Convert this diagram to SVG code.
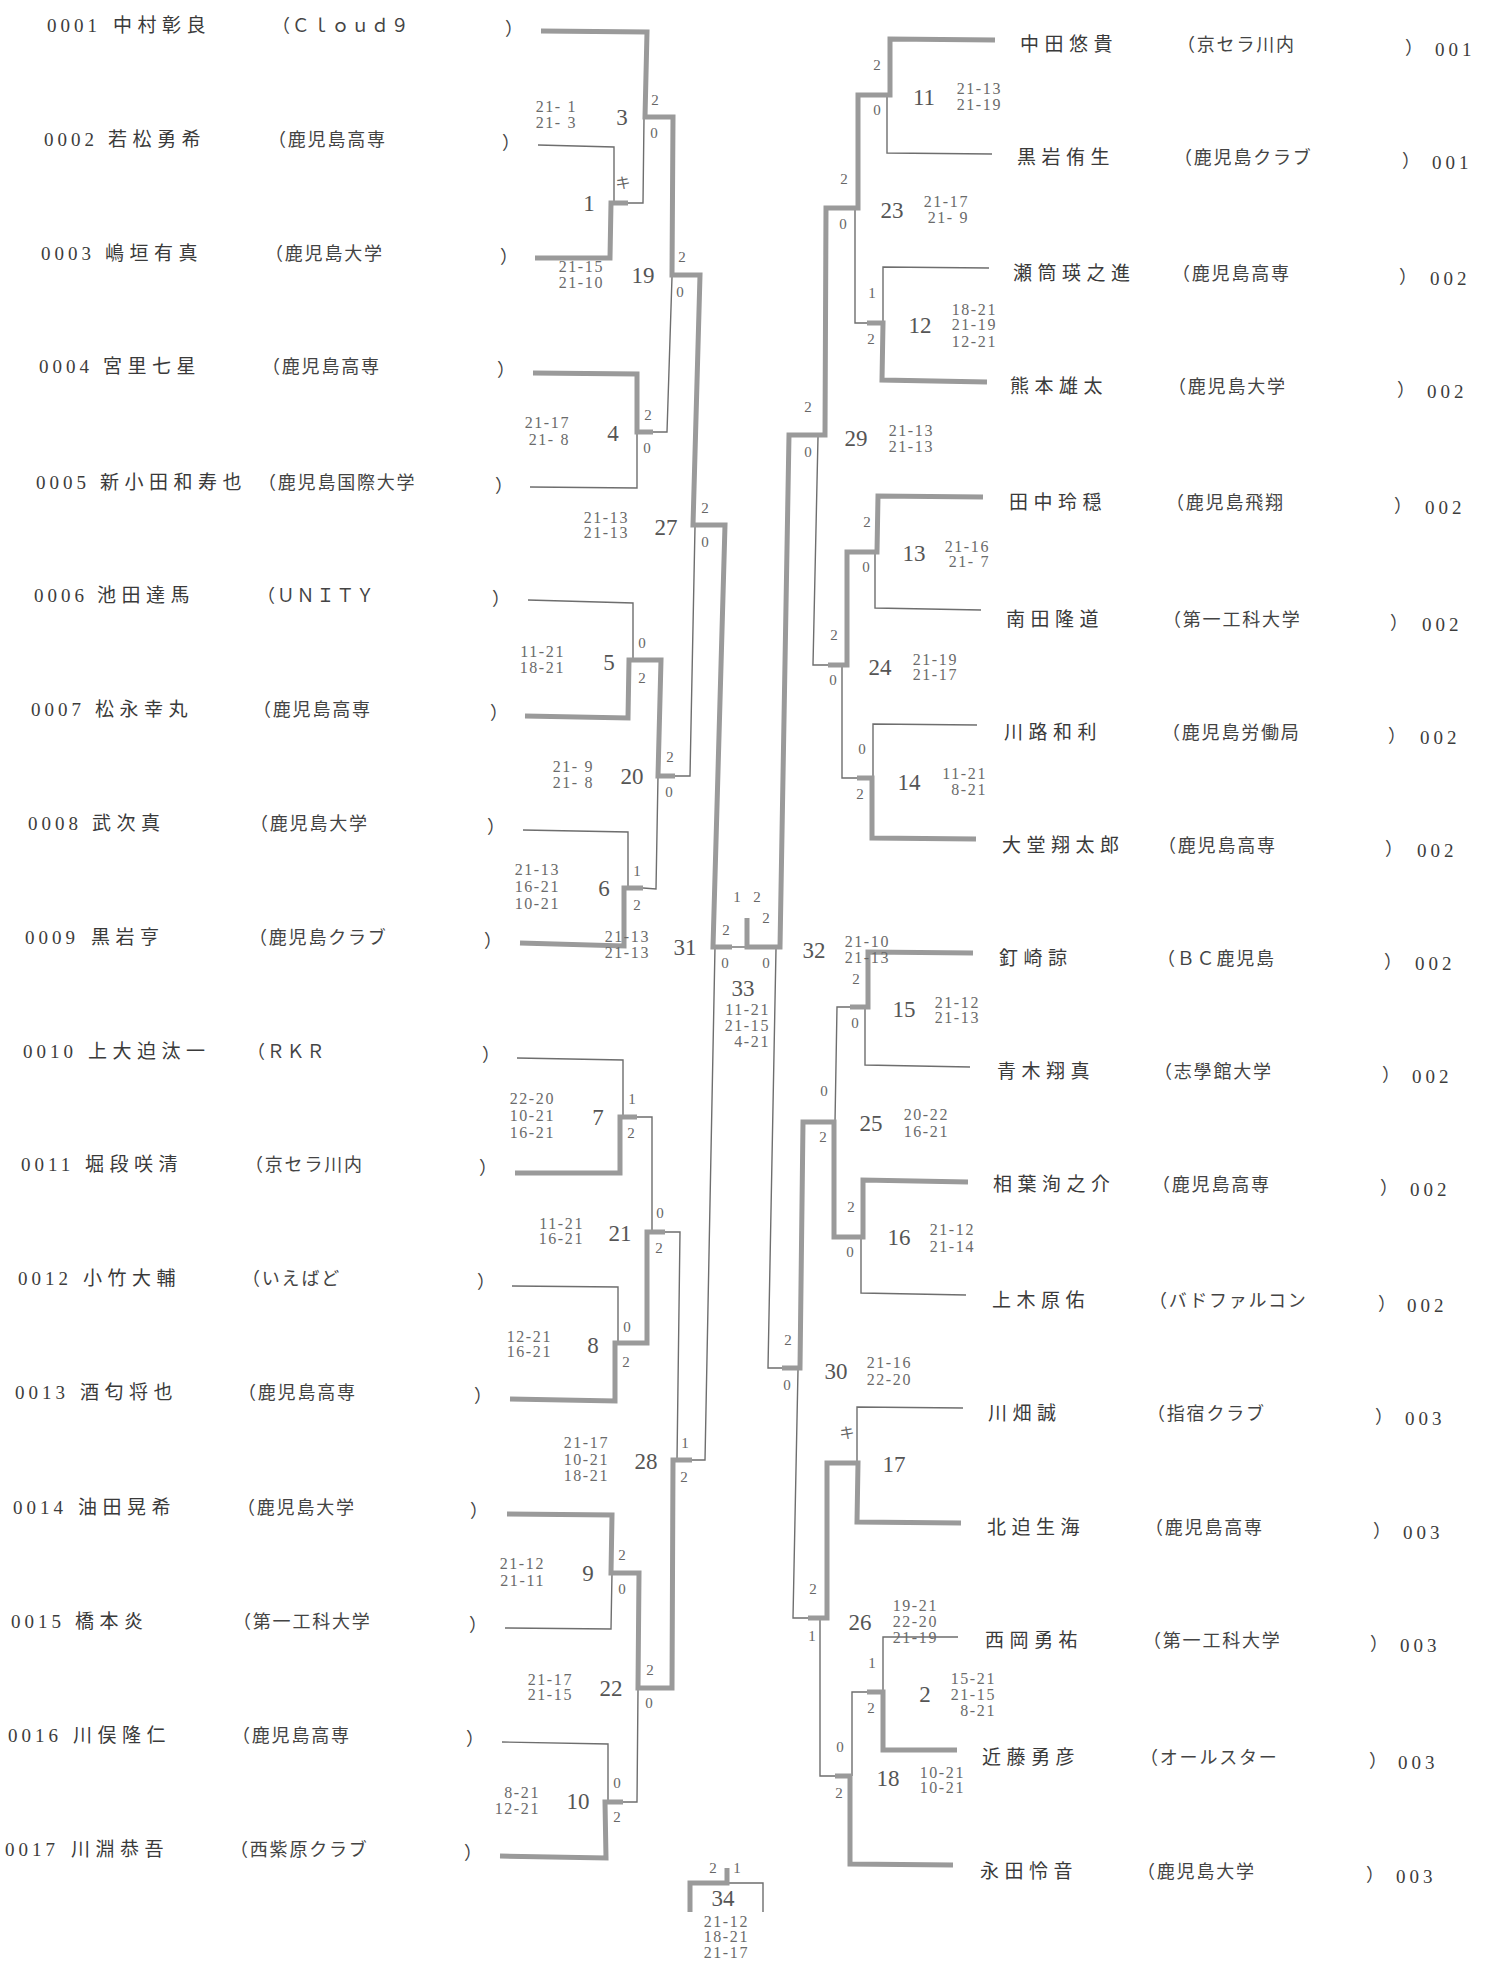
<svg xmlns="http://www.w3.org/2000/svg" width="1496" height="1962" viewBox="0 0 1496 1962">
<style>
.tk{fill:none;stroke:#9a9a9a;stroke-width:5;stroke-linejoin:miter;stroke-linecap:butt}
.tn{fill:none;stroke:#6e6e6e;stroke-width:1.4}
.num{font-family:"Liberation Serif","Noto Sans CJK JP",serif;font-size:19px;letter-spacing:4px;fill:#3c3c3c}
.nm{font-family:"Liberation Serif","Noto Sans CJK JP",serif;font-size:19px;letter-spacing:5.5px;fill:#3a3a3a}
.af{font-family:"Liberation Serif","Noto Sans CJK JP",serif;font-size:18px;letter-spacing:1.8px;fill:#444}
.wc{font-family:"Liberation Serif","Noto Sans CJK JP",serif;font-size:15px;fill:#666;text-anchor:middle}
.mn{font-family:"Liberation Serif",serif;font-size:23px;fill:#555;text-anchor:middle}
.sc{font-family:"Liberation Serif",serif;font-size:16px;letter-spacing:1.6px;fill:#6a6a6a;text-anchor:end}
</style>
<rect width="1496" height="1962" fill="#ffffff"/>
<g id="connectors">
<polyline class="tn" points="538,145 614,147 614,203"/>
<polyline class="tn" points="628,203 643,203 644,118"/>
<polyline class="tn" points="653,432 667,432 672,277"/>
<polyline class="tn" points="530,487 637,488 637,432"/>
<polyline class="tn" points="675,776 690,776 695,527"/>
<polyline class="tn" points="528,600 633,603 633,660"/>
<polyline class="tn" points="523,830 628,832 628,888"/>
<polyline class="tn" points="643,888 656,889 658,776"/>
<polyline class="tn" points="732,947 745,947"/>
<polyline class="tn" points="692,1460 705,1460 715,947"/>
<polyline class="tn" points="517,1058 623,1060 623,1117"/>
<polyline class="tn" points="637,1117 652,1117 652,1232"/>
<polyline class="tn" points="512,1286 618,1287 618,1343"/>
<polyline class="tn" points="665,1232 680,1232 677,1460"/>
<polyline class="tn" points="505,1628 611,1629 612,1573"/>
<polyline class="tn" points="502,1742 608,1744 608,1802"/>
<polyline class="tn" points="623,1802 637,1802 638,1690"/>
<polyline class="tn" points="727,1883 763,1883 763,1912"/>
<polyline class="tn" points="992,154 887,153 887,95"/>
<polyline class="tn" points="989,268 883,267 883,323"/>
<polyline class="tn" points="867,323 855,323 855,210"/>
<polyline class="tn" points="818,437 813,665 828,665"/>
<polyline class="tn" points="981,610 875,608 875,552"/>
<polyline class="tn" points="977,725 873,724 873,778"/>
<polyline class="tn" points="857,778 842,778 842,665"/>
<polyline class="tn" points="776,949 768,1368 782,1368"/>
<polyline class="tn" points="850,1007 837,1007 835,1122"/>
<polyline class="tn" points="970,1067 865,1065 865,1007"/>
<polyline class="tn" points="966,1295 861,1293 861,1237"/>
<polyline class="tn" points="798,1370 793,1618 808,1618"/>
<polyline class="tn" points="963,1408 857,1407 857,1463"/>
<polyline class="tn" points="958,1637 883,1637 883,1692"/>
<polyline class="tn" points="867,1692 852,1692 852,1776"/>
<polyline class="tn" points="835,1776 820,1776 820,1618"/>
<polyline class="tk" points="541,31 647,32 645,117 673,117 672,275 700,275 693,525 725,525 713,947 732,947"/>
<polyline class="tk" points="535,258 610,258 611,203 628,203"/>
<polyline class="tk" points="533,373 637,374 637,432 653,432"/>
<polyline class="tk" points="525,716 628,718 629,660 661,660 658,776 675,776"/>
<polyline class="tk" points="520,943 624,946 624,888 643,888"/>
<polyline class="tk" points="515,1173 620,1173 620,1117 637,1117"/>
<polyline class="tk" points="510,1399 615,1401 615,1343 647,1343 647,1232 665,1232"/>
<polyline class="tk" points="507,1514 612,1515 611,1573 639,1573 638,1688 672,1688 673,1460 692,1460"/>
<polyline class="tk" points="500,1856 606,1858 605,1802 623,1802"/>
<polyline class="tk" points="727,1868 727,1883 690,1883 690,1912"/>
<polyline class="tk" points="995,40 890,39 890,95 858,95 858,208 826,208 825,435 789,435 780,947 747,947 747,918"/>
<polyline class="tk" points="987,382 882,380 883,323 867,323"/>
<polyline class="tk" points="983,497 878,496 877,552 847,552 847,665 828,665"/>
<polyline class="tk" points="976,839 872,838 872,778 857,778"/>
<polyline class="tk" points="973,953 868,952 868,1007 850,1007"/>
<polyline class="tk" points="968,1182 863,1180 863,1237 834,1237 834,1122 803,1122 800,1368 782,1368"/>
<polyline class="tk" points="961,1523 857,1522 858,1463 827,1463 827,1618 808,1618"/>
<polyline class="tk" points="957,1750 883,1750 883,1692 867,1692"/>
<polyline class="tk" points="953,1865 850,1864 850,1776 835,1776"/>
</g>
<g id="p0001"><text class="num" x="47" y="32">0001</text><text class="nm" x="113" y="32">中村彰良</text><text class="af" x="272" y="32">（Ｃｌｏｕｄ９</text><text class="af" x="505" y="35">）</text></g>
<g id="p0002"><text class="num" x="44" y="146">0002</text><text class="nm" x="108" y="146">若松勇希</text><text class="af" x="268" y="146">（鹿児島高専</text><text class="af" x="502" y="149">）</text></g>
<g id="p0003"><text class="num" x="41" y="260">0003</text><text class="nm" x="105" y="260">嶋垣有真</text><text class="af" x="265" y="260">（鹿児島大学</text><text class="af" x="500" y="263">）</text></g>
<g id="p0004"><text class="num" x="39" y="373">0004</text><text class="nm" x="103" y="373">宮里七星</text><text class="af" x="262" y="373">（鹿児島高専</text><text class="af" x="497" y="376">）</text></g>
<g id="p0005"><text class="num" x="36" y="489">0005</text><text class="nm" x="100" y="489">新小田和寿也</text><text class="af" x="258" y="489">（鹿児島国際大学</text><text class="af" x="495" y="492">）</text></g>
<g id="p0006"><text class="num" x="34" y="602">0006</text><text class="nm" x="97" y="602">池田達馬</text><text class="af" x="257" y="602">（ＵＮＩＴＹ</text><text class="af" x="492" y="605">）</text></g>
<g id="p0007"><text class="num" x="31" y="716">0007</text><text class="nm" x="95" y="716">松永幸丸</text><text class="af" x="253" y="716">（鹿児島高専</text><text class="af" x="490" y="719">）</text></g>
<g id="p0008"><text class="num" x="28" y="830">0008</text><text class="nm" x="92" y="830">武次真</text><text class="af" x="250" y="830">（鹿児島大学</text><text class="af" x="487" y="833">）</text></g>
<g id="p0009"><text class="num" x="25" y="944">0009</text><text class="nm" x="91" y="944">黒岩亨</text><text class="af" x="249" y="944">（鹿児島クラブ</text><text class="af" x="484" y="947">）</text></g>
<g id="p0010"><text class="num" x="23" y="1058">0010</text><text class="nm" x="88" y="1058">上大迫汰一</text><text class="af" x="247" y="1058">（ＲＫＲ</text><text class="af" x="482" y="1061">）</text></g>
<g id="p0011"><text class="num" x="21" y="1171">0011</text><text class="nm" x="85" y="1171">堀段咲清</text><text class="af" x="245" y="1171">（京セラ川内</text><text class="af" x="479" y="1174">）</text></g>
<g id="p0012"><text class="num" x="18" y="1285">0012</text><text class="nm" x="83" y="1285">小竹大輔</text><text class="af" x="242" y="1285">（いえばど</text><text class="af" x="477" y="1288">）</text></g>
<g id="p0013"><text class="num" x="15" y="1399">0013</text><text class="nm" x="80" y="1399">酒匂将也</text><text class="af" x="238" y="1399">（鹿児島高専</text><text class="af" x="474" y="1402">）</text></g>
<g id="p0014"><text class="num" x="13" y="1514">0014</text><text class="nm" x="78" y="1514">油田晃希</text><text class="af" x="237" y="1514">（鹿児島大学</text><text class="af" x="470" y="1517">）</text></g>
<g id="p0015"><text class="num" x="11" y="1628">0015</text><text class="nm" x="75" y="1628">橋本炎</text><text class="af" x="233" y="1628">（第一工科大学</text><text class="af" x="469" y="1631">）</text></g>
<g id="p0016"><text class="num" x="8" y="1742">0016</text><text class="nm" x="73" y="1742">川俣隆仁</text><text class="af" x="232" y="1742">（鹿児島高専</text><text class="af" x="466" y="1745">）</text></g>
<g id="p0017"><text class="num" x="5" y="1856">0017</text><text class="nm" x="71" y="1856">川淵恭吾</text><text class="af" x="230" y="1856">（西紫原クラブ</text><text class="af" x="464" y="1859">）</text></g>
<g id="r01"><text class="nm" x="1020" y="51">中田悠貴</text><text class="af" x="1177" y="51">（京セラ川内</text><text class="af" x="1405" y="54">）</text><text class="num" x="1435" y="56">001</text></g>
<g id="r02"><text class="nm" x="1017" y="164">黒岩侑生</text><text class="af" x="1174" y="164">（鹿児島クラブ</text><text class="af" x="1402" y="167">）</text><text class="num" x="1432" y="169">001</text></g>
<g id="r03"><text class="nm" x="1013" y="280">瀬筒瑛之進</text><text class="af" x="1172" y="280">（鹿児島高専</text><text class="af" x="1399" y="283">）</text><text class="num" x="1430" y="285">002</text></g>
<g id="r04"><text class="nm" x="1010" y="393">熊本雄太</text><text class="af" x="1168" y="393">（鹿児島大学</text><text class="af" x="1397" y="396">）</text><text class="num" x="1427" y="398">002</text></g>
<g id="r05"><text class="nm" x="1009" y="509">田中玲穏</text><text class="af" x="1166" y="509">（鹿児島飛翔</text><text class="af" x="1394" y="512">）</text><text class="num" x="1425" y="514">002</text></g>
<g id="r06"><text class="nm" x="1006" y="626">南田隆道</text><text class="af" x="1163" y="626">（第一工科大学</text><text class="af" x="1390" y="629">）</text><text class="num" x="1422" y="631">002</text></g>
<g id="r07"><text class="nm" x="1004" y="739">川路和利</text><text class="af" x="1162" y="739">（鹿児島労働局</text><text class="af" x="1388" y="742">）</text><text class="num" x="1420" y="744">002</text></g>
<g id="r08"><text class="nm" x="1002" y="852">大堂翔太郎</text><text class="af" x="1158" y="852">（鹿児島高専</text><text class="af" x="1385" y="855">）</text><text class="num" x="1417" y="857">002</text></g>
<g id="r09"><text class="nm" x="999" y="965">釘崎諒</text><text class="af" x="1157" y="965">（ＢＣ鹿児島</text><text class="af" x="1384" y="968">）</text><text class="num" x="1415" y="970">002</text></g>
<g id="r10"><text class="nm" x="997" y="1078">青木翔真</text><text class="af" x="1154" y="1078">（志學館大学</text><text class="af" x="1382" y="1081">）</text><text class="num" x="1412" y="1083">002</text></g>
<g id="r11"><text class="nm" x="993" y="1191">相葉洵之介</text><text class="af" x="1152" y="1191">（鹿児島高専</text><text class="af" x="1380" y="1194">）</text><text class="num" x="1410" y="1196">002</text></g>
<g id="r12"><text class="nm" x="992" y="1307">上木原佑</text><text class="af" x="1149" y="1307">（バドファルコン</text><text class="af" x="1378" y="1310">）</text><text class="num" x="1407" y="1312">002</text></g>
<g id="r13"><text class="nm" x="988" y="1420">川畑誠</text><text class="af" x="1147" y="1420">（指宿クラブ</text><text class="af" x="1375" y="1423">）</text><text class="num" x="1405" y="1425">003</text></g>
<g id="r14"><text class="nm" x="987" y="1534">北迫生海</text><text class="af" x="1145" y="1534">（鹿児島高専</text><text class="af" x="1373" y="1537">）</text><text class="num" x="1403" y="1539">003</text></g>
<g id="r15"><text class="nm" x="985" y="1647">西岡勇祐</text><text class="af" x="1143" y="1647">（第一工科大学</text><text class="af" x="1370" y="1650">）</text><text class="num" x="1400" y="1652">003</text></g>
<g id="r16"><text class="nm" x="982" y="1764">近藤勇彦</text><text class="af" x="1140" y="1764">（オールスター</text><text class="af" x="1369" y="1767">）</text><text class="num" x="1398" y="1769">003</text></g>
<g id="r17"><text class="nm" x="980" y="1878">永田怜音</text><text class="af" x="1137" y="1878">（鹿児島大学</text><text class="af" x="1366" y="1881">）</text><text class="num" x="1396" y="1883">003</text></g>
<g id="m1"><text class="mn" x="589" y="211">1</text><text class="wc" x="623" y="188">キ</text></g>
<g id="m3"><text class="mn" x="622" y="125">3</text><text class="wc" x="655" y="105">2</text><text class="wc" x="654" y="138">0</text><text class="sc" x="577" y="112">21- 1</text><text class="sc" x="577" y="128">21- 3</text></g>
<g id="m19"><text class="mn" x="643" y="283">19</text><text class="wc" x="682" y="262">2</text><text class="wc" x="680" y="297">0</text><text class="sc" x="604" y="272">21-15</text><text class="sc" x="604" y="288">21-10</text></g>
<g id="m4"><text class="mn" x="613" y="441">4</text><text class="wc" x="648" y="420">2</text><text class="wc" x="647" y="453">0</text><text class="sc" x="570" y="428">21-17</text><text class="sc" x="570" y="445">21- 8</text></g>
<g id="m27"><text class="mn" x="666" y="535">27</text><text class="wc" x="705" y="513">2</text><text class="wc" x="705" y="547">0</text><text class="sc" x="629" y="523">21-13</text><text class="sc" x="629" y="538">21-13</text></g>
<g id="m5"><text class="mn" x="609" y="670">5</text><text class="wc" x="642" y="648">0</text><text class="wc" x="642" y="683">2</text><text class="sc" x="565" y="657">11-21</text><text class="sc" x="565" y="673">18-21</text></g>
<g id="m20"><text class="mn" x="632" y="784">20</text><text class="wc" x="670" y="762">2</text><text class="wc" x="669" y="797">0</text><text class="sc" x="594" y="772">21- 9</text><text class="sc" x="594" y="788">21- 8</text></g>
<g id="m6"><text class="mn" x="604" y="896">6</text><text class="wc" x="637" y="876">1</text><text class="wc" x="637" y="910">2</text><text class="sc" x="560" y="875">21-13</text><text class="sc" x="560" y="892">16-21</text><text class="sc" x="560" y="909">10-21</text></g>
<g id="m31"><text class="mn" x="685" y="955">31</text><text class="wc" x="726" y="935">2</text><text class="wc" x="725" y="968">0</text><text class="sc" x="650" y="942">21-13</text><text class="sc" x="650" y="958">21-13</text></g>
<g id="m33"><text class="mn" x="743" y="996">33</text><text class="wc" x="737" y="902">1</text><text class="wc" x="757" y="902">2</text><text class="sc" x="770" y="1015">11-21</text><text class="sc" x="770" y="1031">21-15</text><text class="sc" x="770" y="1047">4-21</text></g>
<g id="m32"><text class="mn" x="814" y="958">32</text><text class="wc" x="766" y="923">2</text><text class="wc" x="766" y="968">0</text><text class="sc" x="890" y="947">21-10</text><text class="sc" x="890" y="963">21-13</text></g>
<g id="m7"><text class="mn" x="598" y="1125">7</text><text class="wc" x="632" y="1104">1</text><text class="wc" x="631" y="1138">2</text><text class="sc" x="555" y="1104">22-20</text><text class="sc" x="555" y="1121">10-21</text><text class="sc" x="555" y="1138">16-21</text></g>
<g id="m21"><text class="mn" x="620" y="1241">21</text><text class="wc" x="660" y="1218">0</text><text class="wc" x="659" y="1253">2</text><text class="sc" x="584" y="1229">11-21</text><text class="sc" x="584" y="1244">16-21</text></g>
<g id="m8"><text class="mn" x="593" y="1353">8</text><text class="wc" x="627" y="1332">0</text><text class="wc" x="626" y="1367">2</text><text class="sc" x="552" y="1342">12-21</text><text class="sc" x="552" y="1357">16-21</text></g>
<g id="m28"><text class="mn" x="646" y="1469">28</text><text class="wc" x="685" y="1448">1</text><text class="wc" x="684" y="1482">2</text><text class="sc" x="609" y="1448">21-17</text><text class="sc" x="609" y="1465">10-21</text><text class="sc" x="609" y="1481">18-21</text></g>
<g id="m9"><text class="mn" x="588" y="1581">9</text><text class="wc" x="622" y="1560">2</text><text class="wc" x="622" y="1594">0</text><text class="sc" x="545" y="1569">21-12</text><text class="sc" x="545" y="1586">21-11</text></g>
<g id="m22"><text class="mn" x="611" y="1696">22</text><text class="wc" x="650" y="1675">2</text><text class="wc" x="649" y="1708">0</text><text class="sc" x="573" y="1685">21-17</text><text class="sc" x="573" y="1700">21-15</text></g>
<g id="m10"><text class="mn" x="578" y="1809">10</text><text class="wc" x="617" y="1788">0</text><text class="wc" x="617" y="1822">2</text><text class="sc" x="540" y="1798">8-21</text><text class="sc" x="540" y="1814">12-21</text></g>
<g id="m34"><text class="mn" x="723" y="1906">34</text><text class="wc" x="713" y="1873">2</text><text class="wc" x="737" y="1873">1</text><text class="sc" x="749" y="1927">21-12</text><text class="sc" x="749" y="1942">18-21</text><text class="sc" x="749" y="1958">21-17</text></g>
<g id="m11"><text class="mn" x="924" y="105">11</text><text class="wc" x="877" y="70">2</text><text class="wc" x="877" y="115">0</text><text class="sc" x="1002" y="94">21-13</text><text class="sc" x="1002" y="110">21-19</text></g>
<g id="m23"><text class="mn" x="892" y="218">23</text><text class="wc" x="844" y="184">2</text><text class="wc" x="843" y="229">0</text><text class="sc" x="969" y="207">21-17</text><text class="sc" x="969" y="223">21- 9</text></g>
<g id="m12"><text class="mn" x="920" y="333">12</text><text class="wc" x="872" y="298">1</text><text class="wc" x="871" y="344">2</text><text class="sc" x="997" y="315">18-21</text><text class="sc" x="997" y="330">21-19</text><text class="sc" x="997" y="347">12-21</text></g>
<g id="m29"><text class="mn" x="856" y="446">29</text><text class="wc" x="808" y="412">2</text><text class="wc" x="808" y="457">0</text><text class="sc" x="934" y="436">21-13</text><text class="sc" x="934" y="452">21-13</text></g>
<g id="m13"><text class="mn" x="914" y="561">13</text><text class="wc" x="867" y="527">2</text><text class="wc" x="866" y="572">0</text><text class="sc" x="990" y="552">21-16</text><text class="sc" x="990" y="567">21- 7</text></g>
<g id="m24"><text class="mn" x="880" y="675">24</text><text class="wc" x="834" y="640">2</text><text class="wc" x="833" y="685">0</text><text class="sc" x="958" y="665">21-19</text><text class="sc" x="958" y="680">21-17</text></g>
<g id="m14"><text class="mn" x="909" y="790">14</text><text class="wc" x="862" y="754">0</text><text class="wc" x="860" y="799">2</text><text class="sc" x="987" y="779">11-21</text><text class="sc" x="987" y="795">8-21</text></g>
<g id="m15"><text class="mn" x="904" y="1017">15</text><text class="wc" x="856" y="984">2</text><text class="wc" x="855" y="1028">0</text><text class="sc" x="980" y="1008">21-12</text><text class="sc" x="980" y="1023">21-13</text></g>
<g id="m25"><text class="mn" x="871" y="1131">25</text><text class="wc" x="824" y="1096">0</text><text class="wc" x="823" y="1142">2</text><text class="sc" x="949" y="1120">20-22</text><text class="sc" x="949" y="1137">16-21</text></g>
<g id="m16"><text class="mn" x="899" y="1245">16</text><text class="wc" x="851" y="1212">2</text><text class="wc" x="850" y="1257">0</text><text class="sc" x="975" y="1235">21-12</text><text class="sc" x="975" y="1252">21-14</text></g>
<g id="m30"><text class="mn" x="836" y="1379">30</text><text class="wc" x="788" y="1345">2</text><text class="wc" x="787" y="1390">0</text><text class="sc" x="912" y="1368">21-16</text><text class="sc" x="912" y="1385">22-20</text></g>
<g id="m17"><text class="mn" x="894" y="1472">17</text><text class="wc" x="847" y="1438">キ</text></g>
<g id="m26"><text class="mn" x="860" y="1630">26</text><text class="wc" x="813" y="1594">2</text><text class="wc" x="812" y="1641">1</text><text class="sc" x="938" y="1611">19-21</text><text class="sc" x="938" y="1627">22-20</text><text class="sc" x="938" y="1643">21-19</text></g>
<g id="m2"><text class="mn" x="925" y="1702">2</text><text class="wc" x="872" y="1668">1</text><text class="wc" x="871" y="1713">2</text><text class="sc" x="996" y="1684">15-21</text><text class="sc" x="996" y="1700">21-15</text><text class="sc" x="996" y="1716">8-21</text></g>
<g id="m18"><text class="mn" x="888" y="1786">18</text><text class="wc" x="840" y="1752">0</text><text class="wc" x="839" y="1798">2</text><text class="sc" x="965" y="1778">10-21</text><text class="sc" x="965" y="1793">10-21</text></g>
</svg>
